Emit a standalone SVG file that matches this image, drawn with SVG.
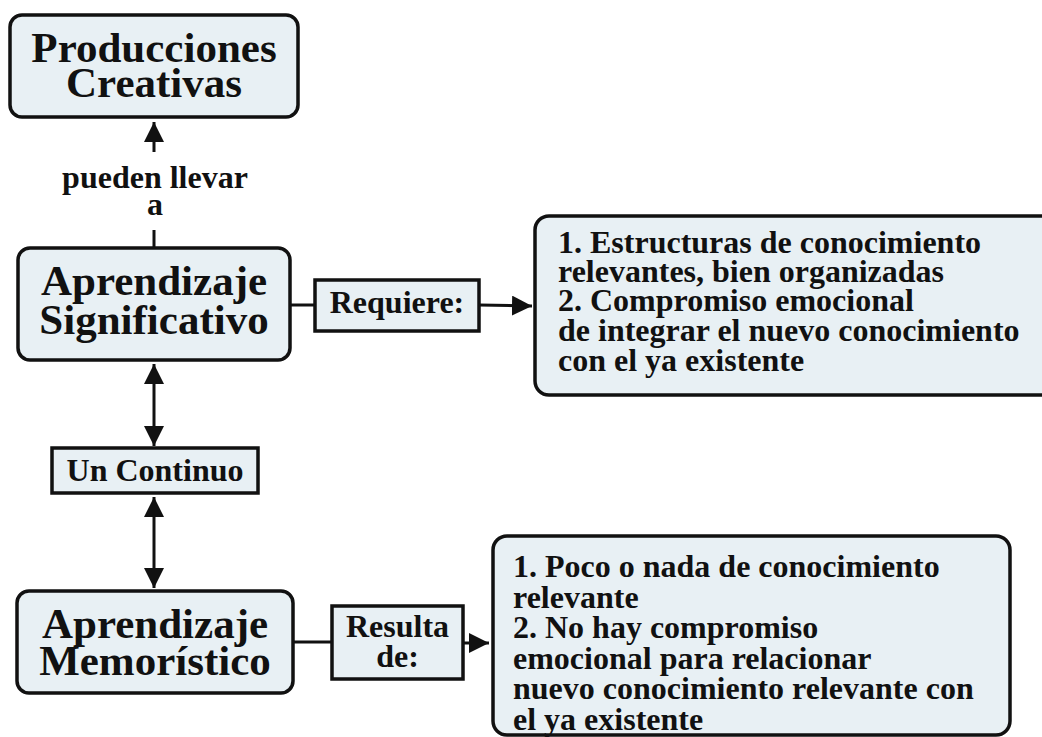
<svg xmlns="http://www.w3.org/2000/svg" width="1042" height="737" viewBox="0 0 1042 737">
<style>
.box{fill:#e8f0f4;stroke:#111;stroke-width:3.5}
.t{font-family:"Liberation Serif","Times New Roman",serif;font-weight:bold;fill:#111}
.big{font-size:43px;text-anchor:middle}
.mid{font-size:32px;text-anchor:middle}
.list{font-size:32px}
.ln{stroke:#111;stroke-width:3;fill:none}
</style>
<defs>
<marker id="ah" markerWidth="22" markerHeight="22" refX="20" refY="10" orient="auto-start-reverse" markerUnits="userSpaceOnUse">
<path d="M0,0 L20,10 L0,20 z" fill="#111"/>
</marker>
</defs>
<rect width="1042" height="737" fill="#fff"/>
<g id="connectors">
<line class="ln" x1="154" y1="152" x2="154" y2="122" marker-end="url(#ah)"/>
<line class="ln" x1="154" y1="230" x2="154" y2="248"/>
<line class="ln" x1="154" y1="364" x2="154" y2="446" marker-start="url(#ah)" marker-end="url(#ah)"/>
<line class="ln" x1="154" y1="497" x2="154" y2="588" marker-start="url(#ah)" marker-end="url(#ah)"/>
<line class="ln" x1="290" y1="305" x2="315" y2="305"/>
<line class="ln" x1="479" y1="305" x2="532" y2="306" marker-end="url(#ah)"/>
<line class="ln" x1="293" y1="642" x2="332" y2="642"/>
<line class="ln" x1="463" y1="643" x2="489" y2="643" marker-end="url(#ah)"/>
<text class="t mid" x="155" y="188" font-size="31">pueden llevar</text>
<text class="t mid" x="155" y="215" font-size="31">a</text>
</g>
<g id="producciones">
<rect class="box" x="10" y="15" width="288" height="102" rx="12"/>
<text class="t big" x="154" y="62">Producciones</text>
<text class="t big" x="154" y="97">Creativas</text>
</g>
<g id="significativo">
<rect class="box" x="18" y="248" width="272" height="112" rx="12"/>
<text class="t big" x="154" y="295">Aprendizaje</text>
<text class="t big" x="154" y="334">Significativo</text>
</g>
<g id="requiere">
<rect class="box" x="315" y="280" width="164" height="51"/>
<text class="t mid" x="397" y="313">Requiere:</text>
</g>
<g id="requisitos">
<rect class="box" x="535" y="216" width="520" height="179" rx="14"/>
<text class="t list" x="558" y="253">1. Estructuras de conocimiento</text>
<text class="t list" x="558" y="282">relevantes, bien organizadas</text>
<text class="t list" x="558" y="311">2. Compromiso emocional</text>
<text class="t list" x="558" y="341">de integrar el nuevo conocimiento</text>
<text class="t list" x="558" y="371">con el ya existente</text>
</g>
<g id="continuo">
<rect class="box" x="52" y="448" width="206" height="45"/>
<text class="t mid" x="155" y="481">Un Continuo</text>
</g>
<g id="memoristico">
<rect class="box" x="17" y="591" width="276" height="102" rx="12"/>
<text class="t big" x="155" y="638">Aprendizaje</text>
<text class="t big" x="155" y="675">Memorístico</text>
</g>
<g id="resulta">
<rect class="box" x="332" y="606" width="131" height="73"/>
<text class="t mid" x="397.5" y="637">Resulta</text>
<text class="t mid" x="397.5" y="667">de:</text>
</g>
<g id="resultados">
<rect class="box" x="493" y="536" width="517" height="199" rx="14"/>
<text class="t list" x="513" y="577">1. Poco o nada de conocimiento</text>
<text class="t list" x="513" y="608">relevante</text>
<text class="t list" x="513" y="638">2. No hay compromiso</text>
<text class="t list" x="513" y="669">emocional para relacionar</text>
<text class="t list" x="513" y="699">nuevo conocimiento relevante con</text>
<text class="t list" x="513" y="730">el ya existente</text>
</g>
</svg>
